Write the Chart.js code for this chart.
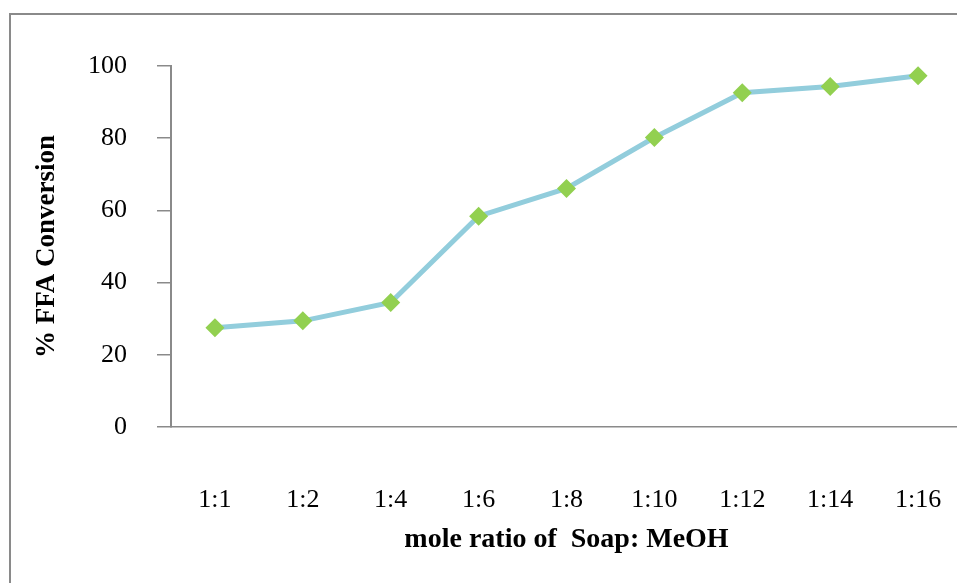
<!DOCTYPE html>
<html>
<head>
<meta charset="utf-8">
<script src="https://cdn.jsdelivr.net/npm/chart.js@4/dist/chart.umd.min.js"></script>
<style>
  html, body { margin: 0; padding: 0; background: #fff; overflow: hidden; width: 957px; height: 583px; }
  #frame { position: absolute; left: 9px; top: 13px; width: 1200px; height: 1200px; border: 2px solid #8a8a8a; box-sizing: border-box; pointer-events: none; }
  #c { position: absolute; left: 0; top: 0; }
</style>
</head>
<body>
<div id="frame"></div>
<canvas id="c" width="1012" height="583"></canvas>
<script>
// Molar ratio of soap to methanol and the resulting FFA conversion (%)
const ratios = ['1:1', '1:2', '1:4', '1:6', '1:8', '1:10', '1:12', '1:14', '1:16'];
const conversion = [27.5, 29.4, 34.5, 58.4, 66.1, 80.2, 92.6, 94.3, 97.3];
const yTicks = [0, 20, 40, 60, 80, 100];

const serif = "'Liberation Serif', 'Times New Roman', serif";

new Chart(document.getElementById('c'), {
  type: 'line',
  data: {
    labels: ratios,
    datasets: [{
      data: conversion,
      borderColor: '#92cddc',
      borderWidth: 5,
      tension: 0,
      pointStyle: 'rectRot',
      pointRadius: 9.5,
      pointBackgroundColor: '#92d050',
      pointBorderColor: '#92d050',
      pointBorderWidth: 0
    }]
  },
  options: {
    responsive: false,
    devicePixelRatio: 1,
    animation: false,
    layout: { padding: { left: 0, top: 66, right: 50, bottom: 0 } },
    plugins: { legend: { display: false }, tooltip: { enabled: false } },
    scales: {
      x: {
        type: 'category',
        offset: true,
        afterFit(scale) { scale.height = 156; },
        grid: { display: false, drawTicks: false },
        border: { display: true, color: '#8a8a8a', width: 1.5 },
        ticks: {
          color: '#000',
          padding: 58,
          maxRotation: 0,
          autoSkip: false,
          font: { family: serif, size: 26 }
        },
        title: {
          display: true,
          text: 'mole ratio of  Soap: MeOH',
          color: '#000',
          padding: { top: 7, bottom: 26 },
          font: { family: serif, size: 28, weight: 'bold' }
        }
      },
      y: {
        min: 0,
        max: 100,
        afterFit(scale) { scale.width = 171; },
        afterBuildTicks(scale) { scale.ticks = yTicks.map(v => ({ value: v })); },
        grid: {
          display: true,
          drawOnChartArea: false,
          drawTicks: true,
          tickLength: 14,
          color: '#8a8a8a',
          lineWidth: 1.5
        },
        border: { display: true, color: '#8a8a8a', width: 2 },
        ticks: {
          color: '#000',
          padding: 30,
          font: { family: serif, size: 26 }
        },
        title: {
          display: true,
          text: '% FFA Conversion',
          color: '#000',
          padding: { top: 31, bottom: 0 },
          font: { family: serif, size: 27, weight: 'bold' }
        }
      }
    }
  }
});
</script>
</body>
</html>
